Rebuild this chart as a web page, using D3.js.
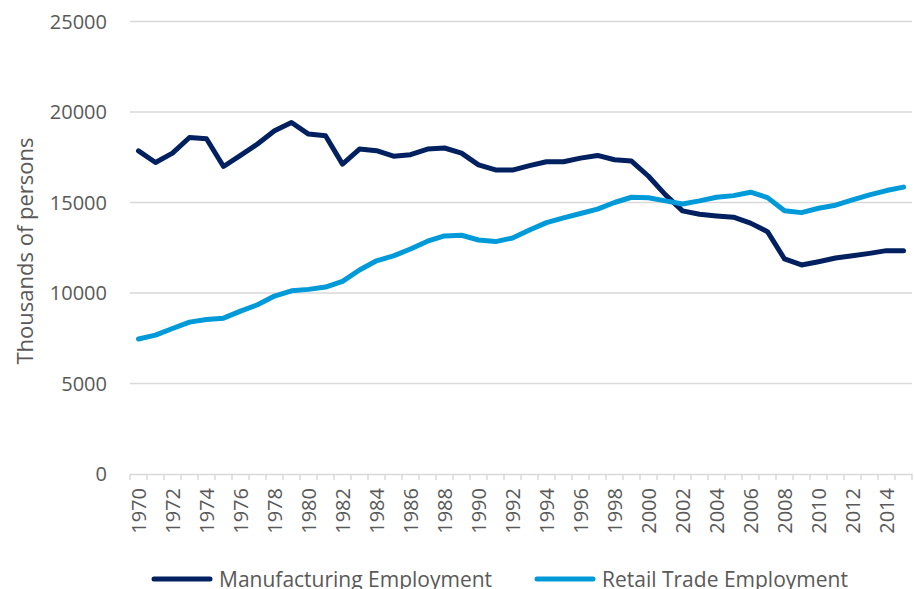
<!DOCTYPE html>
<html>
<head>
<meta charset="utf-8">
<script src="https://cdn.jsdelivr.net/npm/d3@7"></script>
<style>
  body { margin: 0; background: #fff; }
  text { font-family: 'Open Sans', sans-serif; fill: #595959; }
</style>
</head>
<body>
<svg id="chart" width="914" height="589"></svg>
<script>
const years = d3.range(1970, 2016)

// thousands of persons
const manufacturing = [
  17850, 17210, 17730, 18590, 18520, 16990, 17600, 18230, 18960, 19420,
  18780, 18690, 17120, 17950, 17860, 17560, 17640, 17950, 18010, 17730,
  17080, 16800, 16790, 17040, 17250, 17250, 17450, 17600, 17360, 17290,
  16450, 15420, 14540, 14350, 14260, 14190, 13860, 13390, 11880, 11550,
  11730, 11930, 12060, 12190, 12340, 12340
]
const retail = [
  7460, 7670, 8040, 8390, 8540, 8610, 9000, 9350, 9830, 10120,
  10200, 10330, 10640, 11270, 11780, 12050, 12430, 12860, 13150, 13190,
  12930, 12840, 13040, 13480, 13890, 14150, 14390, 14630, 15000, 15290,
  15260, 15090, 14920, 15090, 15290, 15380, 15570, 15270, 14540, 14440,
  14680, 14850, 15140, 15420, 15660, 15850
]
const yTicks = [0, 5000, 10000, 15000, 20000, 25000]

const series = [
  { name: 'Manufacturing Employment', values: manufacturing, color: '#002060' },
  { name: 'Retail Trade Employment', values: retail, color: '#009ad9' }
]

const svg = d3.select('#chart')
const plotLeft = 130
const plotRight = 912
const plotTop = 21.5
const plotBottom = 474

const x = d3.scaleBand().domain(years).range([plotLeft, plotRight])
const y = d3.scaleLinear().domain([0, 25000]).range([plotBottom, plotTop])

// gridlines
svg.append('g')
  .selectAll('line')
  .data(yTicks.filter(d => d > 0))
  .enter()
  .append('line')
  .attr('x1', plotLeft)
  .attr('x2', plotRight)
  .attr('y1', d => y(d))
  .attr('y2', d => y(d))
  .attr('stroke', '#d9d9d9')
  .attr('stroke-width', 1.5)

// y labels
svg.append('g')
  .selectAll('text')
  .data(yTicks)
  .enter()
  .append('text')
  .attr('x', 107)
  .attr('y', d => y(d))
  .attr('dy', '0.35em')
  .attr('text-anchor', 'end')
  .style('font-size', '20px')
  .text(d => d)

svg.append('text')
  .attr('transform', `translate(33,251) rotate(-90)`)
  .attr('text-anchor', 'middle')
  .style('font-size', '22px')
  .text('Thousands of persons')

// x axis: Excel style, ticks between categories
const xAxis = svg.append('g')
xAxis.append('line')
  .attr('x1', plotLeft)
  .attr('x2', plotRight)
  .attr('y1', plotBottom + 0.5)
  .attr('y2', plotBottom + 0.5)
  .attr('stroke', '#d9d9d9')
  .attr('stroke-width', 1.5)
xAxis.selectAll('.tick')
  .data(years.concat([null]))
  .enter()
  .append('line')
  .attr('class', 'tick')
  .attr('x1', d => d === null ? plotRight : x(d))
  .attr('x2', d => d === null ? plotRight : x(d))
  .attr('y1', plotBottom)
  .attr('y2', plotBottom + 6)
  .attr('stroke', '#d9d9d9')
  .attr('stroke-width', 1.5)
xAxis.selectAll('text')
  .data(years.filter(d => d % 2 === 0))
  .enter()
  .append('text')
  .attr('transform', d => `translate(${x(d) + x.bandwidth() / 2},${plotBottom + 14}) rotate(-90)`)
  .attr('dy', '0.35em')
  .attr('text-anchor', 'end')
  .style('font-size', '20px')
  .text(d => d)

// lines
const line = d3.line()
  .x((d, i) => x(years[i]) + x.bandwidth() / 2)
  .y(d => y(d))

svg.append('g')
  .selectAll('path')
  .data(series)
  .enter()
  .append('path')
  .attr('d', d => line(d.values))
  .attr('fill', 'none')
  .attr('stroke', d => d.color)
  .attr('stroke-width', 5)
  .attr('stroke-linejoin', 'round')
  .attr('stroke-linecap', 'round')

// legend
const legendX = [154, 537]
const legend = svg.append('g')
  .selectAll('g')
  .data(series)
  .enter()
  .append('g')
  .attr('transform', (d, i) => `translate(${legendX[i]},579)`)
legend.append('line')
  .attr('x1', 0)
  .attr('x2', 56)
  .attr('stroke', d => d.color)
  .attr('stroke-width', 5)
  .attr('stroke-linecap', 'round')
legend.append('text')
  .attr('x', 65)
  .attr('y', 7.5)
  .style('font-size', '21px')
  .text(d => d.name)
</script>
</body>
</html>
